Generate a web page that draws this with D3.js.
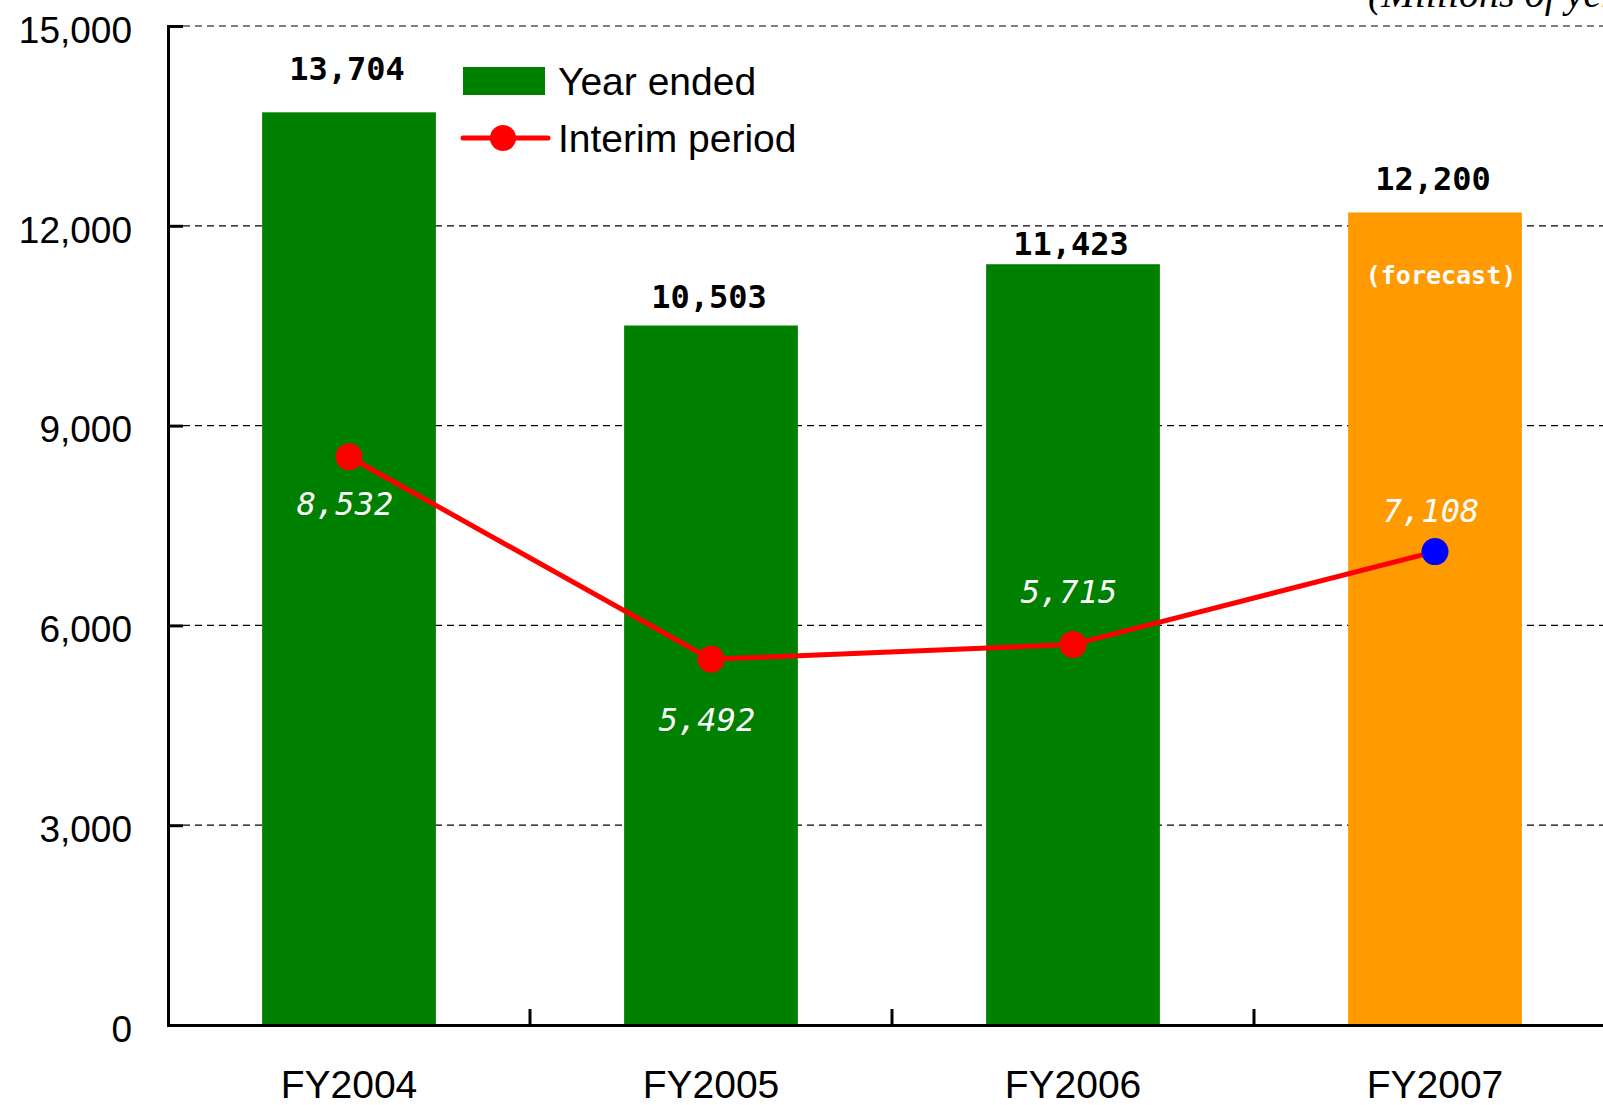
<!DOCTYPE html>
<html>
<head>
<meta charset="utf-8">
<script src="https://cdn.jsdelivr.net/npm/d3@7"></script>
<style>
  body { margin: 0; background: #fff; }
  svg { display: block; }
</style>
</head>
<body>
<div id="chart"></div>
<script>
// data
const categories = ['FY2004', 'FY2005', 'FY2006', 'FY2007'];
const yearEnded = [13704, 10503, 11423, 12200];
const interim = [8532, 5492, 5715, 7108];
const isForecast = [false, false, false, true];
const yTicks = [0, 3000, 6000, 9000, 12000, 15000];

// label nudges (px) — the source placed these by hand
const barLabelLift = [32, 18, 9, 22];
const lineLabelDy = [58, 72, -41, -30];

const W = 1603, H = 1105;
const margin = { top: 26, left: 168 };
const width = 1448;
const height = 999;

const svg = d3.select('#chart').append('svg')
  .attr('width', W)
  .attr('height', H);

const g = svg.append('g')
  .attr('transform', `translate(${margin.left},${margin.top})`);

const slot = d3.scaleBand().domain(categories).range([0, width]);
const x = d3.scaleBand().domain(categories).range([0, width])
  .paddingInner(0.52).paddingOuter(0.26);
const y = d3.scaleLinear().domain([0, 15000]).range([height, 0]);

// dashed grid
g.append('g').selectAll('line')
  .data(yTicks.filter(d => d > 0))
  .enter().append('line')
  .attr('x1', 15).attr('x2', width)
  .attr('y1', d => y(d)).attr('y2', d => y(d))
  .attr('stroke', '#000')
  .attr('stroke-width', 1.2)
  .attr('stroke-dasharray', '7,5');

// bars
g.selectAll('.bar')
  .data(categories)
  .enter().append('rect')
  .attr('class', 'bar')
  .attr('x', d => x(d))
  .attr('y', (d, i) => y(yearEnded[i]))
  .attr('width', x.bandwidth())
  .attr('height', (d, i) => height - y(yearEnded[i]))
  .attr('fill', (d, i) => isForecast[i] ? '#ff9a00' : '#008000');

// bar value labels
g.selectAll('.bar-label')
  .data(categories)
  .enter().append('text')
  .attr('x', d => x(d) + x.bandwidth() / 2 - 2)
  .attr('y', (d, i) => y(yearEnded[i]) - barLabelLift[i])
  .attr('text-anchor', 'middle')
  .style('font-family', '"DejaVu Sans Mono", monospace')
  .style('font-weight', 'bold')
  .style('font-size', '32px')
  .style('fill', '#000')
  .text((d, i) => d3.format(',')(yearEnded[i]));

// forecast note inside the orange bar
g.selectAll('.forecast-note')
  .data(categories.filter((d, i) => isForecast[i]))
  .enter().append('text')
  .attr('x', d => x(d) + x.bandwidth() / 2 + 6)
  .attr('y', d => y(yearEnded[categories.indexOf(d)]) + 72)
  .attr('text-anchor', 'middle')
  .style('font-family', '"DejaVu Sans Mono", monospace')
  .style('font-weight', 'bold')
  .style('font-size', '25px')
  .style('fill', '#fff')
  .text('(forecast)');

// y axis
const yAxis = g.append('g')
  .call(d3.axisLeft(y).tickValues(yTicks).tickFormat(d3.format(',')).tickSize(-15).tickPadding(36));
yAxis.select('.domain').attr('stroke', '#000').attr('stroke-width', 3);
yAxis.selectAll('.tick line').attr('stroke', '#000').attr('stroke-width', 3);
yAxis.selectAll('text')
  .attr('dy', '0.44em')
  .style('font-family', '"Liberation Sans", Arial, sans-serif')
  .style('font-size', '37px')
  .style('fill', '#000');

// x axis: labels centred under slots, ticks between slots
const xAxis = g.append('g')
  .attr('transform', `translate(0,${height})`)
  .call(d3.axisBottom(slot).tickSize(0).tickPadding(45));
xAxis.select('.domain').attr('stroke', '#000').attr('stroke-width', 3);
xAxis.selectAll('text')
  .style('font-family', '"Liberation Sans", Arial, sans-serif')
  .style('font-size', '39px')
  .style('fill', '#000');
xAxis.selectAll('.sep')
  .data(categories.slice(1))
  .enter().append('line')
  .attr('x1', d => slot(d)).attr('x2', d => slot(d))
  .attr('y1', 0).attr('y2', -16)
  .attr('stroke', '#000')
  .attr('stroke-width', 3);

// interim line
const line = d3.line()
  .x((d, i) => x(categories[i]) + x.bandwidth() / 2)
  .y(d => y(d));

g.append('path')
  .datum(interim)
  .attr('d', line)
  .attr('fill', 'none')
  .attr('stroke', '#ff0000')
  .attr('stroke-width', 5);

g.selectAll('.dot')
  .data(interim)
  .enter().append('circle')
  .attr('cx', (d, i) => x(categories[i]) + x.bandwidth() / 2)
  .attr('cy', d => y(d))
  .attr('r', 13.5)
  .attr('fill', (d, i) => isForecast[i] ? '#0000ff' : '#ff0000');

g.selectAll('.dot-label')
  .data(interim)
  .enter().append('text')
  .attr('x', (d, i) => x(categories[i]) + x.bandwidth() / 2 - 4)
  .attr('y', (d, i) => y(d) + lineLabelDy[i])
  .attr('text-anchor', 'middle')
  .style('font-family', '"DejaVu Sans Mono", monospace')
  .style('font-style', 'italic')
  .style('font-size', '32px')
  .style('fill', '#fff')
  .text(d => d3.format(',')(d));

// legend
const legend = svg.append('g');
legend.append('rect')
  .attr('x', 463).attr('y', 67)
  .attr('width', 82).attr('height', 28)
  .attr('fill', '#008000');
legend.append('text')
  .attr('x', 558).attr('y', 95)
  .style('font-family', '"Liberation Sans", Arial, sans-serif')
  .style('font-size', '39px')
  .text('Year ended');
legend.append('line')
  .attr('x1', 463).attr('x2', 548)
  .attr('y1', 138).attr('y2', 138)
  .attr('stroke', '#ff0000')
  .attr('stroke-width', 5)
  .attr('stroke-linecap', 'round');
legend.append('circle')
  .attr('cx', 503).attr('cy', 138).attr('r', 13)
  .attr('fill', '#ff0000');
legend.append('text')
  .attr('x', 558).attr('y', 152)
  .style('font-family', '"Liberation Sans", Arial, sans-serif')
  .style('font-size', '39px')
  .text('Interim period');

// unit note, cropped at the top edge as in the source
svg.append('text')
  .attr('x', 1368).attr('y', 7)
  .style('font-family', '"Liberation Serif", "Times New Roman", serif')
  .style('font-style', 'italic')
  .style('font-size', '40px')
  .text('(Millions of yen)');
</script>
</body>
</html>
